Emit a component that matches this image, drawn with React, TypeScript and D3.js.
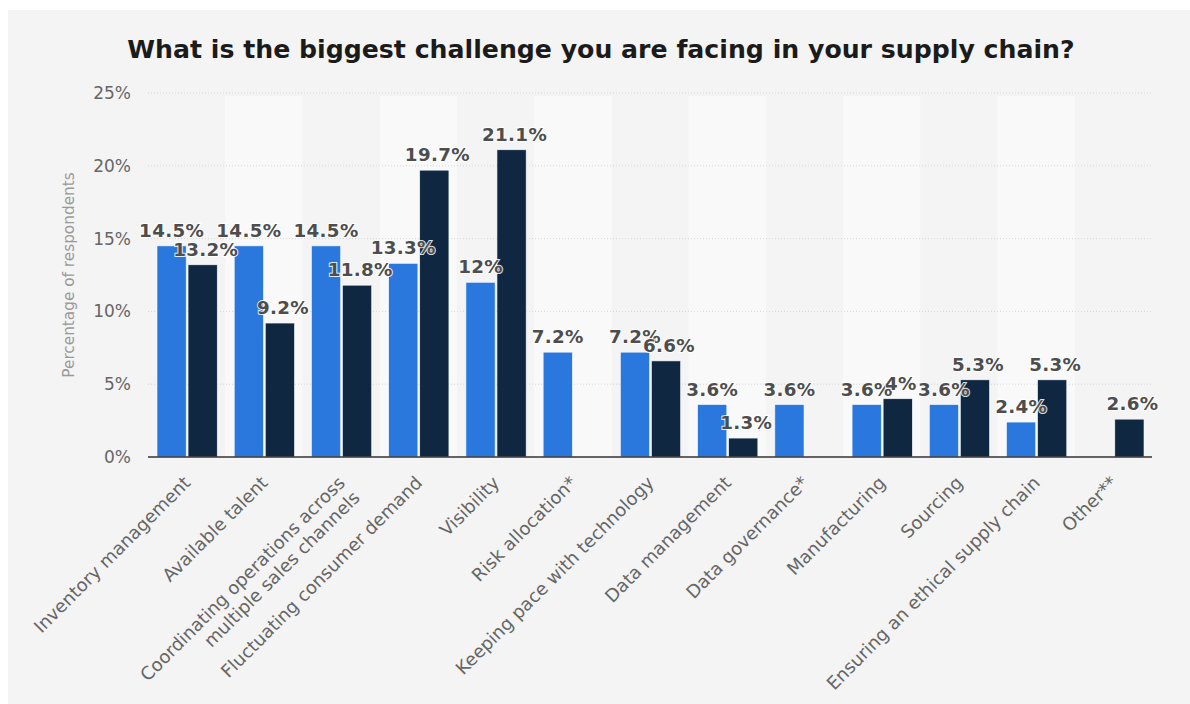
import React from "react";
import * as d3 from "d3";

const categories: string[][] = [
  ["Inventory management"],
  ["Available talent"],
  ["Coordinating operations across", "multiple sales channels"],
  ["Fluctuating consumer demand"],
  ["Visibility"],
  ["Risk allocation*"],
  ["Keeping pace with technology"],
  ["Data management"],
  ["Data governance*"],
  ["Manufacturing"],
  ["Sourcing"],
  ["Ensuring an ethical supply chain"],
  ["Other**"],
];
const seriesA: (number | null)[] = [14.5, 14.5, 14.5, 13.3, 12, 7.2, 7.2, 3.6, 3.6, 3.6, 3.6, 2.4, null];
const seriesB: (number | null)[] = [13.2, 9.2, 11.8, 19.7, 21.1, null, 6.6, 1.3, null, 4, 5.3, 5.3, 2.6];
const seriesNames = ["A", "B"];
const seriesColors = ["#2a78de", "#0f2741"];
const yTicks = [0, 5, 10, 15, 20, 25];
const title = "What is the biggest challenge you are facing in your supply chain?";
const yTitle = "Percentage of respondents";

const W = 1190;
const H = 704;
const L = 148;
const R = 1152;
const T = 93;
const B = 457;
const FONT = "'DejaVu Sans', Verdana, sans-serif";

export default function App() {
  const x0 = d3.scaleBand<number>().domain(d3.range(categories.length)).range([L, R]).padding(0);
  const step = x0.step();
  const x1 = d3.scaleBand<string>().domain(seriesNames).range([9, step - 8]).paddingInner(0.06);
  const y = d3.scaleLinear().domain([0, 25]).range([B, T]);
  const all = [seriesA, seriesB];

  return (
    <div style={{ position: "absolute", left: 0, top: 0 }}>
      <svg width={W} height={H} style={{ display: "block", background: "#fff" }} fontFamily={FONT}>
        <rect x={8} y={10} width={W - 8} height={H - 10} fill="#f4f4f4" />
        {categories.map((_, i) =>
          i % 2 === 1 ? (
            <rect key={"band" + i} x={x0(i)!} y={T + 3} width={step} height={B - T - 3} fill="#f9f9f9" />
          ) : null
        )}
        <text x={601} y={58} textAnchor="middle" fontSize={25.2} fontWeight="bold" fill="#1b1b1b">
          {title}
        </text>
        {yTicks.map((t) => (
          <g key={"t" + t}>
            {t > 0 && (
              <line x1={L} x2={R} y1={y(t)} y2={y(t)} stroke="#d6d6d6" strokeWidth={1} strokeDasharray="1,2" />
            )}
            <text x={131} y={y(t) + 6} textAnchor="end" fontSize={17} fill="#666">
              {t + "%"}
            </text>
          </g>
        ))}
        <text
          transform={`translate(74, ${(T + B) / 2}) rotate(-90)`}
          textAnchor="middle"
          fontSize={15.3}
          fill="#9a9a9a"
        >
          {yTitle}
        </text>
        {all.map((s, si) =>
          s.map((v, i) =>
            v == null ? null : (
              <rect
                key={`b${si}-${i}`}
                x={x0(i)! + x1(seriesNames[si])!}
                y={y(v)}
                width={x1.bandwidth()}
                height={B - y(v)}
                fill={seriesColors[si]}
                stroke="#f4f8ff"
                strokeWidth={0.6}
              />
            )
          )
        )}
        <line x1={L} x2={R} y1={B} y2={B} stroke="#333" strokeWidth={1.5} />
        {all.map((s, si) =>
          s.map((v, i) =>
            v == null ? null : (
              <text
                key={`l${si}-${i}`}
                x={x0(i)! + x1(seriesNames[si])! + x1.bandwidth() / 2 + (si === 1 ? 3 : 0)}
                y={y(v) - 9}
                textAnchor="middle"
                fontSize={18.3}
                fontWeight="bold"
                fill="#4d4d4d"
                stroke="#ffffff"
                strokeWidth={2}
                strokeOpacity={0.85}
                style={{ paintOrder: "stroke" }}
                letterSpacing={0.3}
              >
                {v + "%"}
              </text>
            )
          )
        )}
        {categories.map((lines, i) => (
          <g key={"x" + i} transform={`translate(${x0(i)! + step / 2 + 5}, ${B + 27}) rotate(-45)`}>
            <text textAnchor="end" fontSize={18} fill="#666">
              {lines.map((ln, k) => (
                <tspan key={k} x={0} dy={k === 0 ? 0 : 21}>
                  {ln}
                </tspan>
              ))}
            </text>
          </g>
        ))}
      </svg>
    </div>
  );
}
